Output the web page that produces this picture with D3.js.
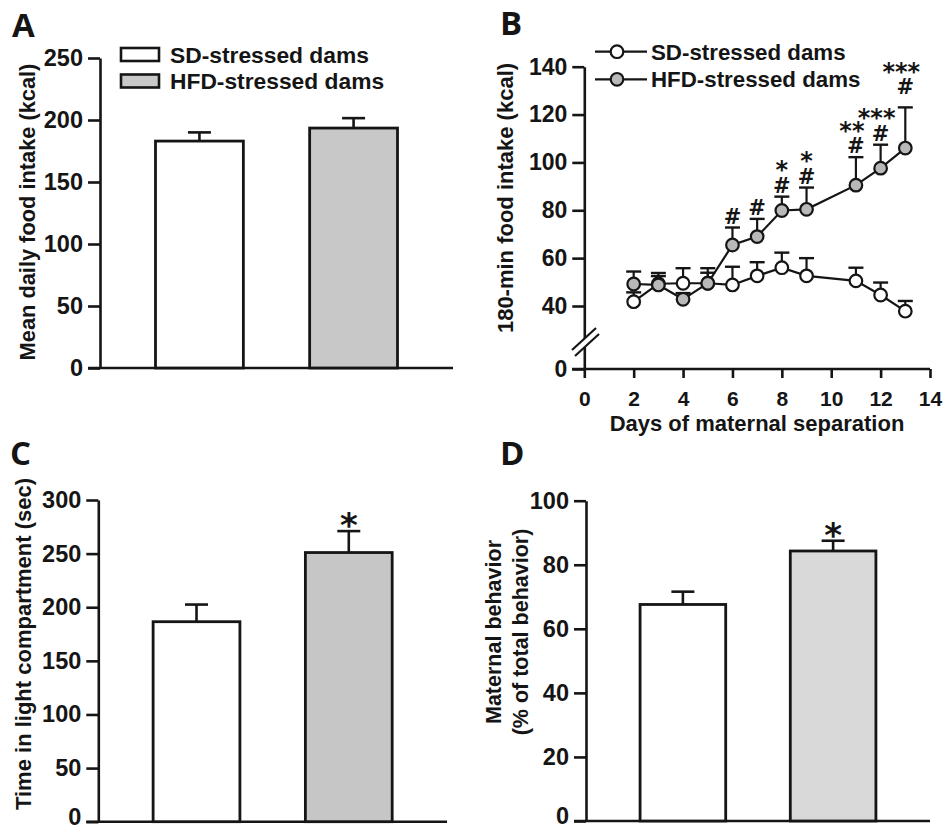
<!DOCTYPE html>
<html>
<head>
<meta charset="utf-8">
<script src="https://cdn.jsdelivr.net/npm/d3@7"></script>
<style>
  html, body { margin: 0; padding: 0; background: #fff; }
  svg { display: block; }
  text { font-family: "Liberation Sans", Arial, sans-serif; font-weight: bold; fill: #151515; }
  .letter { font-family: "Open Sans", sans-serif; font-weight: 700; }
  .annot { font-family: "DejaVu Sans", sans-serif; font-weight: bold; }
</style>
</head>
<body>
<svg id="chart" width="945" height="830"></svg>
<script>
// ---------------- data ----------------
const groups = ["SD-stressed dams", "HFD-stressed dams"];

// Panel A: mean daily food intake (kcal)
const intakeMean = [183, 193.5];
const intakeSem = [7, 8];
const intakeTicks = [0, 50, 100, 150, 200, 250];

// Panel B: 180-min food intake (kcal) by day of maternal separation
const days = [2, 3, 4, 5, 6, 7, 8, 9, 11, 12, 13];
const sdIntake = [41.8, 49.3, 49.5, 49.5, 48.8, 52.6, 56.0, 52.6, 50.5, 44.6, 36.7];
const sdSem = [3.9, 4.5, 6.3, 6.3, 7.6, 5.7, 6.3, 7.4, 5.5, 5.2, 5.4];
const hfdIntake = [49.2, 48.8, 42.8, 49.5, 65.5, 69.0, 79.9, 80.4, 90.5, 97.6, 106.0];
const hfdSem = [5.2, 3.7, 2.6, 4.4, 7.3, 7.4, 5.8, 9.1, 11.7, 9.8, 17.0];
const hfdHash = ["", "", "", "", "#", "#", "#", "#", "#", "#", "#"];
const hfdStars = ["", "", "", "", "", "", "*", "*", "**", "***", "***"];
const dayTicks = [0, 2, 4, 6, 8, 10, 12, 14];
const bYTicks = [0, 40, 60, 80, 100, 120, 140];

// Panel C: time in light compartment (sec)
const lightMean = [186.5, 251];
const lightSem = [16, 20];
const lightStars = ["", "*"];
const lightTicks = [0, 50, 100, 150, 200, 250, 300];

// Panel D: maternal behavior (% of total behavior)
const maternalMean = [67.6, 84.3];
const maternalSem = [4.0, 3.2];
const maternalStars = ["", "*"];
const maternalTicks = [0, 20, 40, 60, 80, 100];

// ---------------- drawing ----------------
const svg = d3.select("#chart");
const INK = "#151515";
const FONT = '"Liberation Sans", Arial, sans-serif';

function yAxis(g, scale, ticks, x0, fontSize) {
  const ax = g.append("g").attr("transform", `translate(${x0},0)`)
    .call(d3.axisLeft(scale).tickValues(ticks).tickSize(12).tickSizeOuter(0).tickPadding(5));
  ax.selectAll("path.domain").attr("stroke", INK).attr("stroke-width", 2.6);
  ax.selectAll(".tick line").attr("stroke", INK).attr("stroke-width", 2.6);
  ax.selectAll(".tick text").attr("font-size", fontSize).attr("fill", INK)
    .style("font-family", FONT).style("font-weight", "bold");
  return ax;
}

function barPanel(cfg) {
  const g = svg.append("g");
  const y = d3.scaleLinear().domain(cfg.domain).range([cfg.yBottom, cfg.yTop]);
  const x = d3.scaleBand().domain(groups).range([cfg.xAxis, cfg.xRight])
    .paddingInner(0.43).paddingOuter(0.36);
  const ax = yAxis(g, y, cfg.ticks, cfg.xAxis, 23.5);
  if (cfg.lowZero) ax.selectAll(".tick text").filter(d => d === 0).attr("dy", "0.12em");
  // baseline
  g.append("line").attr("x1", cfg.xAxis - 12).attr("x2", cfg.xRight)
    .attr("y1", y(0)).attr("y2", y(0)).attr("stroke", INK).attr("stroke-width", 2.6);
  // error bars
  groups.forEach((grp, i) => {
    const cx = x(grp) + x.bandwidth() / 2;
    const top = y(cfg.mean[i] + cfg.sem[i]);
    g.append("line").attr("x1", cx).attr("x2", cx).attr("y1", y(cfg.mean[i])).attr("y2", top)
      .attr("stroke", INK).attr("stroke-width", 2.6);
    g.append("line").attr("x1", cx - 11.5).attr("x2", cx + 11.5).attr("y1", top).attr("y2", top)
      .attr("stroke", INK).attr("stroke-width", 2.6);
    if (cfg.stars && cfg.stars[i]) {
      g.append("text").attr("class", "annot").attr("x", cx).attr("y", top + 6)
        .attr("text-anchor", "middle").attr("font-size", 34).text(cfg.stars[i]);
    }
  });
  // bars
  g.selectAll("rect.bar").data(groups).join("rect").attr("class", "bar")
    .attr("x", d => x(d)).attr("width", x.bandwidth())
    .attr("y", (d, i) => y(cfg.mean[i]))
    .attr("height", (d, i) => y(0) - y(cfg.mean[i]))
    .attr("fill", (d, i) => i === 0 ? "#ffffff" : cfg.gray)
    .attr("stroke", INK).attr("stroke-width", 2.8);
  // y title
  cfg.title.forEach((t, k) => {
    g.append("text")
      .attr("transform", `translate(${cfg.titleX[k]},${cfg.titleY}) rotate(-90)`)
      .attr("text-anchor", "middle").attr("font-size", cfg.titleSize).text(t);
  });
  return { g, x, y };
}

// ---- Panel A ----
barPanel({
  domain: [0, 250], yBottom: 368, yTop: 58, xAxis: 100, xRight: 453,
  ticks: intakeTicks, mean: intakeMean, sem: intakeSem, gray: "#c8c8c8",
  title: ["Mean daily food intake (kcal)"], titleX: [35], titleY: 212, titleSize: 21.8
});
// legend A
const legA = svg.append("g");
groups.forEach((grp, i) => {
  const yy = 48 + i * 26.5;
  legA.append("rect").attr("x", 121).attr("y", yy).attr("width", 38).attr("height", 13)
    .attr("fill", i === 0 ? "#ffffff" : "#c8c8c8").attr("stroke", INK).attr("stroke-width", 2.6);
  legA.append("text").attr("x", 170).attr("y", yy + 14.5).attr("font-size", 22.8).text(grp);
});

// ---- Panel C ----
barPanel({
  domain: [0, 300], yBottom: 821.7, yTop: 500, xAxis: 98.3, xRight: 447,
  ticks: lightTicks, mean: lightMean, sem: lightSem, gray: "#c6c6c6", stars: lightStars,
  title: ["Time in light compartment (sec)"], titleX: [31], titleY: 644, titleSize: 22, lowZero: true
});

// ---- Panel D ----
barPanel({
  domain: [0, 100], yBottom: 821, yTop: 500.7, xAxis: 586, xRight: 930,
  ticks: maternalTicks, mean: maternalMean, sem: maternalSem, gray: "#d9d9d9", stars: maternalStars,
  title: ["Maternal behavior", "(% of total behavior)"], titleX: [501, 528], titleY: 632, titleSize: 21.5, lowZero: true
});

// ---- Panel B ----
(function () {
  const g = svg.append("g");
  const x = d3.scaleLinear().domain([0, 14]).range([584.3, 930]);
  // broken y axis: 0..40 compressed, 40..140 linear
  const y = d3.scaleLinear().domain([0, 40, 140]).range([369, 306, 66.7]);
  yAxis(g, y, bYTicks, 584.3, 23);
  // x axis
  const xa = g.append("g").attr("transform", "translate(0,369)")
    .call(d3.axisBottom(x).tickValues(dayTicks).tickSize(9).tickSizeOuter(0).tickPadding(13));
  xa.selectAll("path.domain").remove();
  xa.selectAll(".tick line").attr("stroke", INK).attr("stroke-width", 2.6);
  xa.selectAll(".tick text").attr("font-size", 21).attr("fill", INK)
    .style("font-family", FONT).style("font-weight", "bold");
  g.append("line").attr("x1", 572).attr("x2", 930).attr("y1", 369).attr("y2", 369)
    .attr("stroke", INK).attr("stroke-width", 2.6);
  // axis break marks
  g.append("polygon").attr("points", "572,352 596,328 596,336 572,360").attr("fill", "#fff");
  [[0, 0], [3, 6]].forEach(([dx, dy]) => {
    g.append("line").attr("x1", 572 + dx).attr("y1", 350 + dy).attr("x2", 596 + dx).attr("y2", 328 + dy)
      .attr("stroke", INK).attr("stroke-width", 2.2);
  });
  // titles
  g.append("text").attr("transform", "translate(513,198) rotate(-90)")
    .attr("text-anchor", "middle").attr("font-size", 22).text("180-min food intake (kcal)");
  g.append("text").attr("x", 757).attr("y", 431).attr("text-anchor", "middle")
    .attr("font-size", 22).text("Days of maternal separation");

  const series = [
    { vals: sdIntake, sem: sdSem, fill: "#ffffff" },
    { vals: hfdIntake, sem: hfdSem, fill: "#b9b9b9" }
  ];
  const line = d3.line().x((d, i) => x(days[i])).y(d => y(d));
  series.forEach(s => {
    const sg = g.append("g");
    s.vals.forEach((v, i) => {
      const cx = x(days[i]), top = y(v + s.sem[i]);
      sg.append("line").attr("x1", cx).attr("x2", cx).attr("y1", y(v)).attr("y2", top)
        .attr("stroke", INK).attr("stroke-width", 2.2);
      sg.append("line").attr("x1", cx - 7.5).attr("x2", cx + 7.5).attr("y1", top).attr("y2", top)
        .attr("stroke", INK).attr("stroke-width", 2.4);
    });
    sg.append("path").datum(s.vals).attr("d", line).attr("fill", "none")
      .attr("stroke", INK).attr("stroke-width", 2.2);
    sg.selectAll("circle").data(s.vals).join("circle")
      .attr("cx", (d, i) => x(days[i])).attr("cy", d => y(d)).attr("r", 6.3)
      .attr("fill", s.fill).attr("stroke", INK).attr("stroke-width", 2.2);
  });
  // significance annotations over HFD
  hfdIntake.forEach((v, i) => {
    const cx = x(days[i]);
    const top = y(v + hfdSem[i]);
    // lift the label above a wide neighbouring star label on the previous day
    const lift = (i > 0 && days[i] - days[i - 1] === 1 && hfdStars[i - 1].length >= 3) ? 9 : 0;
    const hb = top - 4 - lift;
    if (hfdHash[i]) {
      g.append("text").attr("class", "annot").attr("x", cx).attr("y", hb)
        .attr("text-anchor", "middle").attr("font-size", 21).text(hfdHash[i]);
    }
    if (hfdStars[i]) {
      const shift = hfdStars[i].length > 1 ? -4 : 0;
      g.append("text").attr("class", "annot").attr("x", cx + shift).attr("y", hb - 14.5)
        .attr("text-anchor", "middle").attr("font-size", 24).text(hfdStars[i]);
    }
  });
  // legend B
  series.forEach((s, i) => {
    const yy = 51.7 + i * 27.6;
    g.append("line").attr("x1", 595).attr("x2", 647).attr("y1", yy).attr("y2", yy)
      .attr("stroke", INK).attr("stroke-width", 2.2);
    g.append("circle").attr("cx", 617).attr("cy", yy).attr("r", 6.3)
      .attr("fill", s.fill).attr("stroke", INK).attr("stroke-width", 2.2);
    g.append("text").attr("x", 651).attr("y", yy + 8).attr("font-size", 22.3).text(groups[i]);
  });
})();

// panel letters
[["A", 12, 37], ["B", 500, 35], ["C", 10, 465], ["D", 500, 465]].forEach(([t, x, y]) => {
  svg.append("text").attr("class", "letter").attr("x", x).attr("y", y)
    .attr("font-size", 33).text(t);
});
</script>
</body>
</html>
